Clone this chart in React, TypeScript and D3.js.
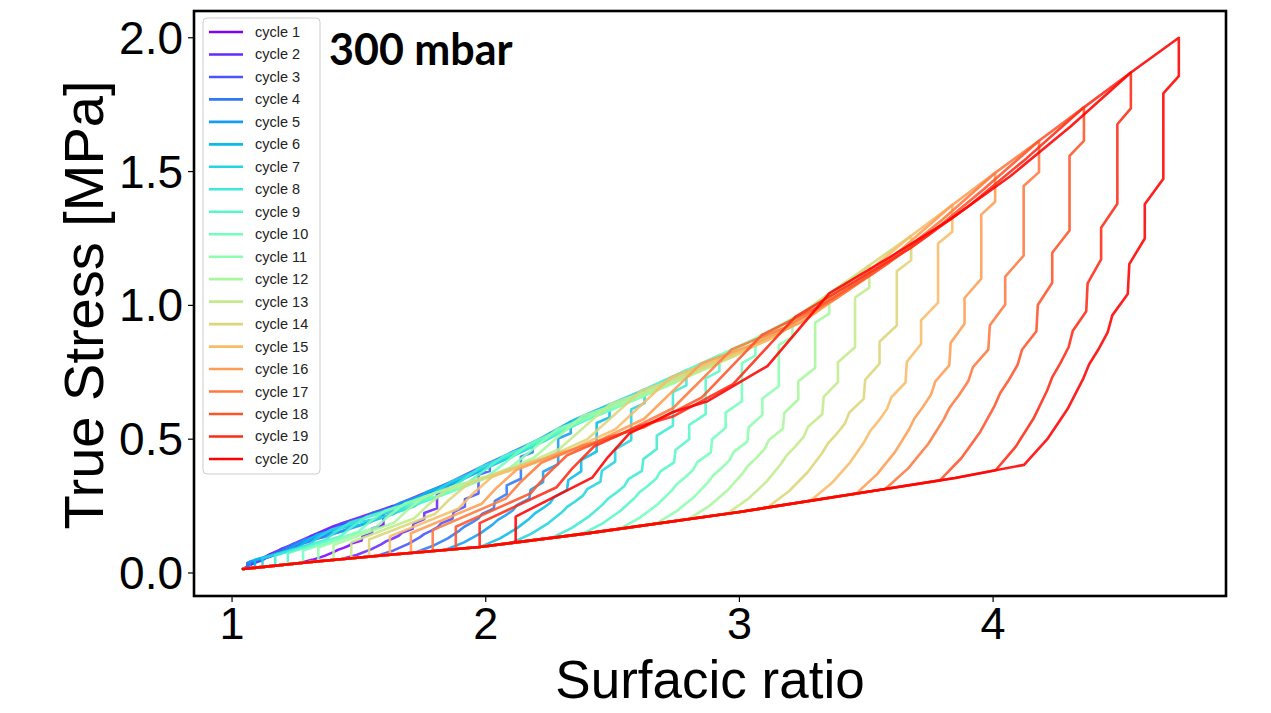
import React from 'react';
import * as d3 from 'd3';

// ---------- data ----------
const cycleLabels = [
  'cycle 1', 'cycle 2', 'cycle 3', 'cycle 4', 'cycle 5', 'cycle 6', 'cycle 7', 'cycle 8', 'cycle 9', 'cycle 10',
  'cycle 11', 'cycle 12', 'cycle 13', 'cycle 14', 'cycle 15', 'cycle 16', 'cycle 17', 'cycle 18', 'cycle 19', 'cycle 20',
];
// maximum surfacic ratio reached in each cycle
const cycleMax = [1.634, 1.85, 2.016, 2.185, 2.335, 2.488, 2.626, 2.791, 2.921, 3.063,
  3.209, 3.354, 3.512, 3.677, 3.839, 4.008, 4.181, 4.358, 4.543, 4.732];
// ratio where the unloading branch reaches the lower return curve
const unloadEnd = [1.26, 1.43, 1.57, 1.72, 1.84, 1.98, 2.1, 2.26, 2.38, 2.53,
  2.67, 2.8, 2.95, 3.11, 3.28, 3.46, 3.575, 3.79, 4.01, 4.122];
// ratio where the reloading branch leaves the lower curve
const reloadStart = [1.043, 1.06, 1.06, 1.06, 1.07, 1.09, 1.12, 1.17, 1.22, 1.28,
  1.34, 1.4, 1.47, 1.54, 1.622, 1.705, 1.791, 1.882, 1.976, 2.118];
// ratio where the reloading branch rejoins the upper envelope
const reloadMerge = [1.043, 1.31, 1.43, 1.55, 1.66, 1.77, 1.86, 1.98, 2.07, 2.17,
  2.28, 2.38, 2.49, 2.61, 2.73, 2.85, 2.97, 3.09, 3.22, 3.354];

// upper (virgin loading) envelope
const envelopeX = [1.043, 1.15, 1.4, 1.634, 1.85, 2.0, 2.2, 2.354, 2.6, 2.843, 3.06, 3.236, 3.354, 3.512, 3.677, 3.839, 4.008, 4.181, 4.358, 4.543, 4.732];
const envelopeY = [0.015, 0.07, 0.175, 0.25, 0.335, 0.405, 0.495, 0.575, 0.675, 0.78, 0.875, 0.965, 1.045, 1.15, 1.26, 1.375, 1.495, 1.615, 1.74, 1.87, 2.0];
// lower return curve
const lowerX = [1.043, 1.3, 1.6, 1.976, 2.4, 3.0, 3.55, 3.85, 4.122];
const lowerY = [0.015, 0.04, 0.066, 0.097, 0.148, 0.228, 0.31, 0.355, 0.404];

// staircase of the unloading branch (read on cycles 19-20, as fractions of the branch span)
const unloadShapeX = [0, 0, -0.1, -0.1, -0.22, -0.22, -0.32, -0.33, -0.43, -0.46, -0.52, -0.58, -0.62, -0.72, -0.85, -1];
const unloadShapeY = [1, 0.91, 0.87, 0.67, 0.61, 0.53, 0.47, 0.4, 0.35, 0.31, 0.27, 0.235, 0.2, 0.13, 0.06, 0];
// reloading branch below the merge point (read on cycle 20, as fractions of the branch span)
const reloadShapeX = [0, 0, 0.244, 0.293, 0.363, 0.5, 0.612, 0.803, 1];
const reloadShapeY = [0, 0.104, 0.26, 0.341, 0.438, 0.523, 0.567, 0.708, 1];
// sag of the reloading branch under the envelope, between merge point and previous maximum
const reloadSagT = [0.2, 0.4, 0.6, 0.8];
const reloadSagF = [0.02, 0.035, 0.035, 0.02];

const xTicks = [1, 2, 3, 4];
const yTicks = [0, 0.5, 1.0, 1.5, 2.0];

// matplotlib "rainbow" colormap
function rainbow(t: number) {
  const r = Math.min(1, Math.abs(2 * t - 0.5));
  const g = Math.sin(Math.PI * t);
  const b = Math.cos((Math.PI * t) / 2);
  return d3.rgb(r * 255, g * 255, b * 255).formatHex();
}

export default function App() {
  const W = 1271, H = 713;
  const left = 194, right = 1226, top = 11, bottom = 596;
  const x = d3.scaleLinear().domain([0.85, 4.918]).range([left, right]);
  const y = d3.scaleLinear().domain([-0.086, 2.1]).range([bottom, top]);
  const env = d3.scaleLinear().domain(envelopeX).range(envelopeY);
  const low = d3.scaleLinear().domain(lowerX).range(lowerY);

  const buildCycle = (i: number): [number, number][] => {
    const M = cycleMax[i];
    const pts: [number, number][] = [];
    let from = -Infinity;
    if (i === 0) {
      envelopeX.forEach((ex, k) => { if (ex < M) pts.push([ex, envelopeY[k]]); });
    } else {
      const a = reloadStart[i], m = reloadMerge[i], Mp = cycleMax[i - 1];
      lowerX.forEach((lx, k) => { if (lx < a) pts.push([lx, lowerY[k]]); });
      const ya = low(a), ym = env(m);
      reloadShapeX.forEach((t, k) => pts.push([a + t * (m - a), ya + reloadShapeY[k] * (ym - ya)]));
      reloadSagT.forEach((t, k) => {
        const xx = m + t * (Mp - m);
        pts.push([xx, env(xx) * (1 - reloadSagF[k])]);
      });
      pts.push([Mp, env(Mp)]);
      from = Mp;
    }
    if (i > 0) envelopeX.forEach((ex, k) => { if (ex > from && ex < M) pts.push([ex, envelopeY[k]]); });
    const u = unloadEnd[i];
    const yu = low(u), yM = env(M);
    unloadShapeX.forEach((t, k) => pts.push([M + t * (M - u), yu + unloadShapeY[k] * (yM - yu)]));
    for (let k = lowerX.length - 1; k >= 0; k--) if (lowerX[k] < u) pts.push([lowerX[k], lowerY[k]]);
    return pts;
  };

  const line = d3.line<[number, number]>().x(d => x(d[0])).y(d => y(d[1]));
  const colors = cycleLabels.map((_, i) => rainbow(i / (cycleLabels.length - 1)));

  const legendX = 203, legendY = 18, legendW = 117, legendH = 456, rowH = 22.47;

  return (
    <svg width={W} height={H} style={{ position: 'absolute', left: 0, top: 0, background: '#fff' }}
      fontFamily="'Liberation Sans', Arial, sans-serif">
      <rect x={0} y={0} width={W} height={H} fill="#fff" />
      <defs>
        <clipPath id="plot"><rect x={left} y={top} width={right - left} height={bottom - top} /></clipPath>
      </defs>
      <g clipPath="url(#plot)" fill="none" strokeWidth={2.6} strokeLinejoin="round" strokeLinecap="round">
        {cycleLabels.map((c, i) => (
          <path key={c} d={line(buildCycle(i)) || ''} stroke={colors[i]} strokeOpacity={0.88} />
        ))}
      </g>
      <rect x={left} y={top} width={right - left} height={bottom - top} fill="none" stroke="#000" strokeWidth={2.6} />
      {xTicks.map(t => (
        <g key={t}>
          <line x1={x(t)} x2={x(t)} y1={bottom} y2={bottom + 6} stroke="#000" strokeWidth={1.2} />
          <text x={x(t)} y={bottom + 43} textAnchor="middle" fontSize={45}>{t}</text>
        </g>
      ))}
      {yTicks.map(t => (
        <g key={t}>
          <line x1={left - 6} x2={left} y1={y(t)} y2={y(t)} stroke="#000" strokeWidth={1.2} />
          <text x={183} y={y(t) + 16} textAnchor="end" fontSize={46}>{t.toFixed(1)}</text>
        </g>
      ))}
      <text x={710} y={698} textAnchor="middle" fontSize={53}>Surfacic ratio</text>
      <text transform={`translate(103,305) rotate(-90)`} textAnchor="middle" fontSize={56}>True Stress [MPa]</text>
      <text x={329} y={65} fontSize={43} fontWeight="bold" fontFamily="Lato, 'Open Sans', sans-serif">300 mbar</text>
      <g>
        <rect x={legendX} y={legendY} width={legendW} height={legendH} rx={4} fill="#fff" fillOpacity={0.8} stroke="#cccccc" strokeWidth={1} />
        {cycleLabels.map((c, i) => {
          const ly = 32 + i * rowH;
          return (
            <g key={c}>
              <line x1={209} x2={243} y1={ly} y2={ly} stroke={colors[i]} strokeWidth={2.6} />
              <text x={255} y={ly + 5} fontSize={14.5} fill="#222">{c}</text>
            </g>
          );
        })}
      </g>
    </svg>
  );
}
